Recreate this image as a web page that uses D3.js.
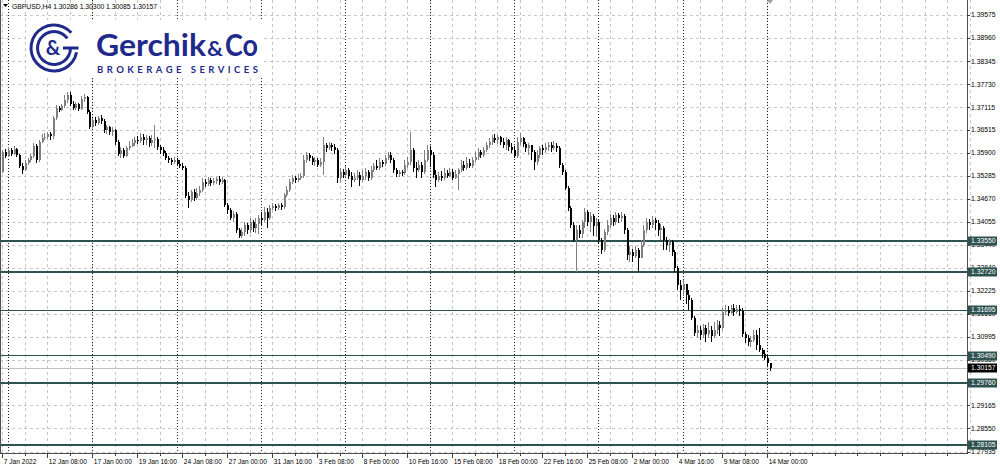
<!DOCTYPE html>
<html><head><meta charset="utf-8">
<script src="https://cdn.jsdelivr.net/npm/d3@7"></script>
<style>body{margin:0;background:#fff}svg{display:block}</style>
</head><body><svg id="c" width="1000" height="469"></svg>
<script>
const symbolTitle = "GBPUSD,H4";
const lastQuote = ["1.30286","1.30300","1.30085","1.30157"];
const lastPrice = 1.30157;

const open = [
1.3539,1.3592,1.3582,1.3598,1.3587,1.3600,1.3584,1.3555,1.3544,1.3563,
1.3571,1.3582,1.3608,1.3571,1.3619,1.3630,1.3632,1.3640,1.3635,1.3683,
1.3710,1.3704,1.3715,1.3731,1.3744,1.3720,1.3710,1.3720,1.3707,1.3734,
1.3739,1.3699,1.3659,1.3678,1.3670,1.3683,1.3675,1.3651,1.3659,1.3646,
1.3651,1.3619,1.3587,1.3598,1.3582,1.3603,1.3608,1.3616,1.3624,1.3622,
1.3632,1.3624,1.3630,1.3616,1.3624,1.3627,1.3606,1.3598,1.3590,1.3576,
1.3571,1.3566,1.3571,1.3560,1.3555,1.3550,1.3475,1.3464,1.3486,1.3470,
1.3483,1.3491,1.3512,1.3507,1.3518,1.3510,1.3515,1.3520,1.3512,1.3518,
1.3451,1.3438,1.3416,1.3427,1.3384,1.3368,1.3379,1.3398,1.3384,1.3406,
1.3390,1.3400,1.3416,1.3411,1.3432,1.3416,1.3443,1.3448,1.3443,1.3451,
1.3446,1.3478,1.3491,1.3512,1.3523,1.3518,1.3523,1.3528,1.3571,1.3584,
1.3576,1.3566,1.3571,1.3558,1.3566,1.3611,1.3603,1.3611,1.3606,1.3598,
1.3523,1.3539,1.3531,1.3544,1.3528,1.3518,1.3523,1.3531,1.3518,1.3528,
1.3539,1.3523,1.3544,1.3555,1.3550,1.3566,1.3560,1.3576,1.3584,1.3571,
1.3544,1.3534,1.3539,1.3536,1.3558,1.3566,1.3598,1.3550,1.3544,1.3558,
1.3539,1.3571,1.3598,1.3584,1.3531,1.3518,1.3528,1.3523,1.3536,1.3528,
1.3539,1.3523,1.3534,1.3544,1.3558,1.3550,1.3563,1.3555,1.3571,1.3579,
1.3592,1.3584,1.3598,1.3611,1.3619,1.3630,1.3624,1.3632,1.3619,1.3611,
1.3624,1.3606,1.3598,1.3582,1.3619,1.3630,1.3614,1.3603,1.3611,1.3592,
1.3566,1.3584,1.3603,1.3598,1.3606,1.3611,1.3603,1.3608,1.3603,1.3558,
1.3539,1.3496,1.3443,1.3398,1.3358,1.3384,1.3374,1.3406,1.3432,1.3406,
1.3422,1.3395,1.3406,1.3358,1.3331,1.3379,1.3398,1.3416,1.3406,1.3424,
1.3416,1.3422,1.3384,1.3318,1.3326,1.3315,1.3331,1.3310,1.3344,1.3384,
1.3406,1.3398,1.3411,1.3403,1.3384,1.3390,1.3358,1.3344,1.3352,1.3326,
1.3283,1.3237,1.3224,1.3240,1.3211,1.3198,1.3150,1.3110,1.3118,1.3104,
1.3123,1.3107,1.3118,1.3102,1.3118,1.3131,1.3123,1.3166,1.3171,1.3163,
1.3176,1.3166,1.3174,1.3168,1.3107,1.3096,1.3086,1.3091,1.3104,1.3078,
1.3064,1.3054,1.3043,1.30286];

const high = [
1.3598,1.3600,1.3606,1.3603,1.3608,1.3603,1.3587,1.3563,1.3571,1.3576,
1.3587,1.3616,1.3614,1.3624,1.3640,1.3643,1.3646,1.3646,1.3688,1.3718,
1.3715,1.3720,1.3744,1.3752,1.3752,1.3728,1.3726,1.3723,1.3742,1.3747,
1.3742,1.3704,1.3683,1.3686,1.3688,1.3691,1.3680,1.3664,1.3662,1.3659,
1.3654,1.3624,1.3606,1.3603,1.3608,1.3622,1.3627,1.3632,1.3635,1.3643,
1.3640,1.3638,1.3635,1.3638,1.3664,1.3632,1.3611,1.3606,1.3595,1.3582,
1.3576,1.3579,1.3576,1.3571,1.3563,1.3555,1.3486,1.3491,1.3494,1.3496,
1.3502,1.3523,1.3520,1.3526,1.3523,1.3523,1.3526,1.3528,1.3526,1.3520,
1.3456,1.3443,1.3435,1.3432,1.3390,1.3390,1.3406,1.3403,1.3416,1.3411,
1.3416,1.3424,1.3432,1.3446,1.3443,1.3451,1.3456,1.3454,1.3456,1.3456,
1.3483,1.3502,1.3520,1.3531,1.3528,1.3534,1.3536,1.3584,1.3592,1.3590,
1.3582,1.3579,1.3576,1.3576,1.3632,1.3616,1.3619,1.3616,1.3614,1.3603,
1.3550,1.3547,1.3555,1.3550,1.3539,1.3536,1.3544,1.3539,1.3544,1.3550,
1.3544,1.3555,1.3563,1.3571,1.3576,1.3571,1.3584,1.3592,1.3592,1.3576,
1.3550,1.3544,1.3544,1.3571,1.3579,1.3646,1.3603,1.3566,1.3571,1.3566,
1.3598,1.3611,1.3608,1.3592,1.3544,1.3539,1.3542,1.3550,1.3544,1.3550,
1.3547,1.3544,1.3550,1.3571,1.3568,1.3579,1.3574,1.3579,1.3592,1.3603,
1.3598,1.3606,1.3619,1.3630,1.3638,1.3640,1.3638,1.3635,1.3630,1.3632,
1.3627,1.3616,1.3608,1.3632,1.3643,1.3632,1.3619,1.3616,1.3611,1.3598,
1.3598,1.3608,1.3611,1.3616,1.3619,1.3619,1.3622,1.3616,1.3608,1.3563,
1.3544,1.3502,1.3448,1.3406,1.3398,1.3398,1.3411,1.3443,1.3438,1.3432,
1.3427,1.3416,1.3411,1.3363,1.3387,1.3411,1.3427,1.3424,1.3432,1.3430,
1.3432,1.3427,1.3390,1.3342,1.3334,1.3342,1.3336,1.3358,1.3398,1.3416,
1.3414,1.3422,1.3416,1.3411,1.3400,1.3395,1.3366,1.3360,1.3358,1.3331,
1.3288,1.3251,1.3251,1.3240,1.3224,1.3203,1.3155,1.3131,1.3128,1.3134,
1.3131,1.3139,1.3128,1.3139,1.3144,1.3142,1.3176,1.3184,1.3182,1.3184,
1.3187,1.3184,1.3184,1.3176,1.3112,1.3104,1.3102,1.3118,1.3118,1.3123,
1.3070,1.3064,1.3051,1.30300];

const low = [
1.3536,1.3576,1.3579,1.3582,1.3584,1.3579,1.3550,1.3534,1.3542,1.3558,
1.3566,1.3576,1.3563,1.3566,1.3616,1.3624,1.3627,1.3624,1.3627,1.3678,
1.3699,1.3702,1.3710,1.3723,1.3715,1.3704,1.3704,1.3702,1.3704,1.3726,
1.3694,1.3654,1.3656,1.3662,1.3664,1.3667,1.3643,1.3640,1.3638,1.3635,
1.3611,1.3582,1.3576,1.3576,1.3579,1.3598,1.3606,1.3608,1.3614,1.3616,
1.3611,1.3611,1.3606,1.3608,1.3603,1.3598,1.3587,1.3582,1.3571,1.3563,
1.3558,1.3560,1.3555,1.3550,1.3544,1.3470,1.3443,1.3459,1.3462,1.3464,
1.3475,1.3486,1.3499,1.3502,1.3502,1.3504,1.3507,1.3504,1.3507,1.3446,
1.3427,1.3411,1.3406,1.3376,1.3363,1.3363,1.3368,1.3374,1.3376,1.3379,
1.3376,1.3374,1.3398,1.3406,1.3390,1.3411,1.3438,1.3435,1.3438,1.3438,
1.3440,1.3472,1.3486,1.3507,1.3510,1.3512,1.3518,1.3523,1.3563,1.3568,
1.3558,1.3555,1.3552,1.3552,1.3531,1.3592,1.3598,1.3595,1.3587,1.3510,
1.3512,1.3523,1.3526,1.3520,1.3499,1.3512,1.3518,1.3502,1.3512,1.3518,
1.3515,1.3518,1.3539,1.3544,1.3544,1.3552,1.3555,1.3571,1.3563,1.3536,
1.3526,1.3526,1.3528,1.3531,1.3550,1.3558,1.3539,1.3523,1.3539,1.3523,
1.3534,1.3566,1.3552,1.3523,1.3499,1.3512,1.3515,1.3518,1.3523,1.3526,
1.3518,1.3520,1.3491,1.3539,1.3542,1.3544,1.3550,1.3550,1.3566,1.3571,
1.3576,1.3579,1.3592,1.3603,1.3611,1.3616,1.3614,1.3611,1.3603,1.3598,
1.3595,1.3590,1.3576,1.3576,1.3611,1.3606,1.3592,1.3584,1.3571,1.3544,
1.3558,1.3576,1.3584,1.3590,1.3595,1.3592,1.3598,1.3592,1.3550,1.3531,
1.3491,1.3435,1.3390,1.3352,1.3272,1.3363,1.3363,1.3390,1.3395,1.3379,
1.3368,1.3366,1.3347,1.3320,1.3326,1.3371,1.3390,1.3395,1.3398,1.3403,
1.3406,1.3374,1.3304,1.3299,1.3299,1.3310,1.3272,1.3310,1.3339,1.3376,
1.3384,1.3390,1.3384,1.3368,1.3358,1.3331,1.3331,1.3326,1.3315,1.3272,
1.3224,1.3198,1.3208,1.3187,1.3171,1.3144,1.3102,1.3096,1.3091,1.3096,
1.3086,1.3096,1.3086,1.3096,1.3107,1.3102,1.3118,1.3158,1.3155,1.3160,
1.3155,1.3160,1.3155,1.3099,1.3083,1.3075,1.3072,1.3086,1.3064,1.3059,
1.3043,1.3038,1.3022,1.30085];

const close = [
1.3592,1.3582,1.3598,1.3587,1.3600,1.3584,1.3555,1.3544,1.3563,1.3571,
1.3582,1.3608,1.3571,1.3619,1.3630,1.3632,1.3640,1.3635,1.3683,1.3710,
1.3704,1.3715,1.3731,1.3744,1.3720,1.3710,1.3720,1.3707,1.3734,1.3739,
1.3699,1.3659,1.3678,1.3670,1.3683,1.3675,1.3651,1.3659,1.3646,1.3651,
1.3619,1.3587,1.3598,1.3582,1.3603,1.3608,1.3616,1.3624,1.3622,1.3632,
1.3624,1.3630,1.3616,1.3624,1.3627,1.3606,1.3598,1.3590,1.3576,1.3571,
1.3566,1.3571,1.3560,1.3555,1.3550,1.3475,1.3464,1.3486,1.3470,1.3483,
1.3491,1.3512,1.3507,1.3518,1.3510,1.3515,1.3520,1.3512,1.3518,1.3451,
1.3438,1.3416,1.3427,1.3384,1.3368,1.3379,1.3398,1.3384,1.3406,1.3390,
1.3400,1.3416,1.3411,1.3432,1.3416,1.3443,1.3448,1.3443,1.3451,1.3446,
1.3478,1.3491,1.3512,1.3523,1.3518,1.3523,1.3528,1.3571,1.3584,1.3576,
1.3566,1.3571,1.3558,1.3566,1.3611,1.3603,1.3611,1.3606,1.3598,1.3523,
1.3539,1.3531,1.3544,1.3528,1.3518,1.3523,1.3531,1.3518,1.3528,1.3539,
1.3523,1.3544,1.3555,1.3550,1.3566,1.3560,1.3576,1.3584,1.3571,1.3544,
1.3534,1.3539,1.3536,1.3558,1.3566,1.3598,1.3550,1.3544,1.3558,1.3539,
1.3571,1.3598,1.3584,1.3531,1.3518,1.3528,1.3523,1.3536,1.3528,1.3539,
1.3523,1.3534,1.3544,1.3558,1.3550,1.3563,1.3555,1.3571,1.3579,1.3592,
1.3584,1.3598,1.3611,1.3619,1.3630,1.3624,1.3632,1.3619,1.3611,1.3624,
1.3606,1.3598,1.3582,1.3619,1.3630,1.3614,1.3603,1.3611,1.3592,1.3566,
1.3584,1.3603,1.3598,1.3606,1.3611,1.3603,1.3608,1.3603,1.3558,1.3539,
1.3496,1.3443,1.3398,1.3358,1.3384,1.3374,1.3406,1.3432,1.3406,1.3422,
1.3395,1.3406,1.3358,1.3331,1.3379,1.3398,1.3416,1.3406,1.3424,1.3416,
1.3422,1.3384,1.3318,1.3326,1.3315,1.3331,1.3310,1.3344,1.3384,1.3406,
1.3398,1.3411,1.3403,1.3384,1.3390,1.3358,1.3344,1.3352,1.3326,1.3283,
1.3237,1.3224,1.3240,1.3211,1.3198,1.3150,1.3110,1.3118,1.3104,1.3123,
1.3107,1.3118,1.3102,1.3118,1.3131,1.3123,1.3166,1.3171,1.3163,1.3176,
1.3166,1.3174,1.3168,1.3107,1.3096,1.3086,1.3091,1.3104,1.3078,1.3064,
1.3054,1.3043,1.30286,1.30157];

const timeLabels = ["7 Jan 2022","12 Jan 08:00","17 Jan 00:00","19 Jan 16:00","24 Jan 08:00","27 Jan 00:00","31 Jan 16:00","3 Feb 08:00","8 Feb 00:00","10 Feb 16:00","15 Feb 08:00","18 Feb 00:00","22 Feb 16:00","25 Feb 08:00","2 Mar 00:00","4 Mar 16:00","9 Mar 08:00","14 Mar 00:00"];
const timeLabelBars = [0,16,32,48,64,80,96,112,128,144,160,176,192,208,224,240,256,272];
const weekStartBars = [2,32,62,92,122,152,182,212,242,272];
const gridPrices = [1.39575,1.38960,1.38345,1.37730,1.37115,1.36515,1.35900,1.35285,1.34670,1.34055,1.33440,1.32840,1.32225,1.31610,1.30995,1.30380,1.29770,1.29165,1.28550,1.27935];
const priceLabels = [1.39575,1.38960,1.38345,1.37730,1.37115,1.36515,1.35900,1.35285,1.34670,1.34055,1.33440,1.32840,1.32225,1.31610,1.30995,1.30380,1.29165,1.28550,1.27935];
const levels = [1.33550,1.32720,1.31695,1.30490,1.29760,1.28105];

const W = 1000, H = 469;
const plotR = 967, plotB = 453;
const n = close.length;
const svg = d3.select("#c");
const x = d3.scaleLinear().domain([0, n - 1]).range([2.3, 770]);
const y = d3.scaleLinear().domain([1.27935, 1.39575]).range([451.5, 15]);
const font = "'Liberation Sans', Arial, sans-serif";
const px = v => Math.round(v) + 0.5;

svg.append("rect").attr("width", W).attr("height", H).attr("fill", "#fff");

// grid
const g = svg.append("g").attr("shape-rendering", "crispEdges");
g.selectAll("line.h").data(gridPrices).join("line")
  .attr("x1", 0).attr("x2", plotR).attr("y1", d => px(y(d))).attr("y2", d => px(y(d)))
  .attr("stroke", "#c6c6c6").attr("stroke-dasharray", "3,3");
const gridBars = d3.range(0, 345, 8);
g.selectAll("line.v").data(gridBars).join("line")
  .attr("x1", d => px(x(d))).attr("x2", d => px(x(d))).attr("y1", 0).attr("y2", plotB)
  .attr("stroke", "#c6c6c6").attr("stroke-dasharray", "3,3");
g.selectAll("line.sep").data(weekStartBars).join("line")
  .attr("x1", d => px(x(d))).attr("x2", d => px(x(d))).attr("y1", 0).attr("y2", plotB)
  .attr("stroke", "#222").attr("stroke-dasharray", "1,2");

// bid line
g.append("line").attr("x1", 0).attr("x2", plotR)
  .attr("y1", px(y(lastPrice))).attr("y2", px(y(lastPrice))).attr("stroke", "#c0c0c0");

// level lines
g.selectAll("line.lv").data(levels).join("line")
  .attr("x1", 0).attr("x2", plotR).attr("y1", d => y(d)).attr("y2", d => y(d))
  .attr("stroke", "#2d5250").attr("stroke-width", 1.6);

// candles
const idx = d3.range(n);
const cg = svg.append("g").attr("shape-rendering", "crispEdges");
const upCol = "#808080", dnCol = "#000";
cg.selectAll("line.w").data(idx).join("line")
  .attr("x1", i => Math.round(x(i)) + 0.5).attr("x2", i => Math.round(x(i)) + 0.5)
  .attr("y1", i => y(Math.max(high[i], open[i], close[i])))
  .attr("y2", i => y(Math.min(low[i], open[i], close[i])))
  .attr("stroke", i => close[i] >= open[i] ? upCol : dnCol).attr("stroke-width", 1);
cg.selectAll("rect.b").data(idx).join("rect")
  .attr("x", i => Math.round(x(i)) - 0.5).attr("width", 2)
  .attr("y", i => y(Math.max(open[i], close[i])))
  .attr("height", i => Math.max(1, Math.abs(y(open[i]) - y(close[i]))))
  .attr("fill", i => close[i] >= open[i] ? upCol : dnCol);

// frame
const fr = svg.append("g").attr("shape-rendering", "crispEdges").attr("stroke", "#505050").attr("fill", "none");
fr.append("line").attr("x1", 0.5).attr("x2", 0.5).attr("y1", 0).attr("y2", plotB);
fr.append("line").attr("x1", 0).attr("x2", plotR + 0.5).attr("y1", plotB + 0.5).attr("y2", plotB + 0.5);
fr.append("line").attr("x1", plotR + 0.5).attr("x2", plotR + 0.5).attr("y1", 0).attr("y2", plotB + 0.5);

// chart-shift marker
svg.append("path").attr("d", `M${x(n-1)-3},0 L${x(n-1)+3},0 L${x(n-1)},4 Z`).attr("fill", "#a0a0a0");

// logo
const logo = svg.append("g");
logo.append("rect").attr("x", 26).attr("y", 20).attr("width", 238).attr("height", 58).attr("fill", "#fff");
const blue = "#1f2a8c";
const arc = d3.arc();
const cx = 54, cy = 48;
logo.append("path").attr("transform", `translate(${cx},${cy})`)
  .attr("d", arc({innerRadius: 21.5, outerRadius: 24.5, startAngle: Math.PI * 0.56, endAngle: Math.PI * 2.27}))
  .attr("fill", blue);
logo.append("path").attr("transform", `translate(${cx},${cy})`)
  .attr("d", arc({innerRadius: 15, outerRadius: 18, startAngle: Math.PI * 0.5, endAngle: Math.PI * 2.3}))
  .attr("fill", blue);
logo.append("rect").attr("x", cx + 9).attr("y", cy - 1.5).attr("width", 15.5).attr("height", 3).attr("fill", blue);
logo.append("text").attr("x", cx - 1).attr("y", cy + 7).attr("text-anchor", "middle")
  .attr("font-family", "Lato, 'Open Sans', sans-serif").attr("font-weight", 700).attr("font-size", 20)
  .attr("fill", blue).text("&");
logo.append("text").attr("x", 96).attr("y", 56).attr("font-family", "Lato, 'Open Sans', sans-serif")
  .attr("font-weight", 700).attr("font-size", 31).attr("fill", blue)
  .attr("textLength", 110).attr("lengthAdjust", "spacingAndGlyphs").text("Gerchik");
logo.append("text").attr("x", 207).attr("y", 56).attr("font-family", "Lato, 'Open Sans', sans-serif")
  .attr("font-weight", 700).attr("font-size", 20).attr("fill", blue)
  .attr("textLength", 16).attr("lengthAdjust", "spacingAndGlyphs").text("&");
logo.append("text").attr("x", 225).attr("y", 56).attr("font-family", "Lato, 'Open Sans', sans-serif")
  .attr("font-weight", 700).attr("font-size", 31).attr("fill", blue)
  .attr("textLength", 33).attr("lengthAdjust", "spacingAndGlyphs").text("Co");
logo.append("text").attr("x", 97).attr("y", 73).attr("font-family", "Lato, 'Open Sans', sans-serif")
  .attr("font-weight", 700).attr("font-size", 9.5).attr("fill", blue)
  .attr("textLength", 161).attr("lengthAdjust", "spacing").text("BROKERAGE SERVICES");

// title
svg.append("path").attr("d", "M3,4 L8,4 L5.5,7 Z").attr("fill", "#000");
svg.append("text").attr("x", 12).attr("y", 8.5).attr("font-family", font).attr("font-size", 6.8)
  .attr("fill", "#000").text(symbolTitle + "  " + lastQuote.join(" "));

// time axis
const ta = svg.append("g").attr("shape-rendering", "crispEdges");
ta.selectAll("line.t").data(gridBars.filter(d => d <= 340)).join("line")
  .attr("x1", d => px(x(d))).attr("x2", d => px(x(d))).attr("y1", plotB).attr("y2", d => timeLabelBars.includes(d) ? plotB + 5 : plotB + 3)
  .attr("stroke", "#404040");
ta.selectAll("text").data(timeLabels).join("text")
  .attr("x", (d, i) => x(timeLabelBars[i]) + 1.5).attr("y", 463.5)
  .attr("font-family", font).attr("font-size", 6.6).attr("fill", "#000").text(d => d);

// price axis
const pa = svg.append("g");
pa.selectAll("line").data(gridPrices).join("line").attr("shape-rendering", "crispEdges")
  .attr("x1", plotR).attr("x2", plotR + 3).attr("y1", d => px(y(d))).attr("y2", d => px(y(d))).attr("stroke", "#404040");
pa.selectAll("text").data(priceLabels).join("text")
  .attr("x", 971).attr("y", d => y(d) + 2.4)
  .attr("font-family", font).attr("font-size", 6.8).attr("fill", "#000").text(d => d.toFixed(5));

// level boxes
const lb = svg.append("g").selectAll("g").data(levels).join("g");
lb.append("rect").attr("x", 968).attr("y", d => Math.round(y(d)) - 4.5).attr("width", 29).attr("height", 9).attr("fill", "#2d5250");
lb.append("text").attr("x", 971).attr("y", d => Math.round(y(d)) + 2.4).attr("font-family", font).attr("font-size", 6.8)
  .attr("fill", "#fff").text(d => d.toFixed(5));

// current price box
svg.append("rect").attr("x", 968).attr("y", Math.round(y(lastPrice)) - 4.5).attr("width", 29).attr("height", 9).attr("fill", "#000");
svg.append("text").attr("x", 971).attr("y", Math.round(y(lastPrice)) + 2.4).attr("font-family", font).attr("font-size", 6.8)
  .attr("fill", "#fff").text(lastPrice.toFixed(5));
</script></body></html>
